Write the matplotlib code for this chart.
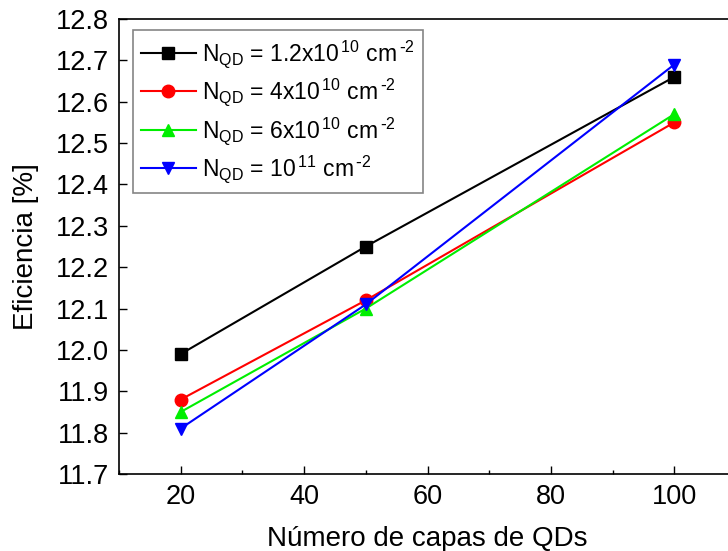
"""Eficiencia vs número de capas de QDs for several QD densities."""
import matplotlib

matplotlib.use("Agg")
import matplotlib.pyplot as plt
from matplotlib.ticker import FormatStrFormatter, MultipleLocator

plt.rcParams["font.family"] = ["Liberation Sans", "DejaVu Sans"]
plt.rcParams["mathtext.default"] = "regular"

capas = [20, 50, 100]
ef_12e10 = [11.99, 12.25, 12.66]
ef_4e10 = [11.88, 12.12, 12.55]
ef_6e10 = [11.85, 12.10, 12.57]
ef_1e11 = [11.81, 12.11, 12.69]

labels = [
    r"N$_{QD}$ = 1.2x10$^{\,10}$ cm$^{\,\text{-}2}$",
    r"N$_{QD}$ = 4x10$^{\,10}$ cm$^{\,\text{-}2}$",
    r"N$_{QD}$ = 6x10$^{\,10}$ cm$^{\,\text{-}2}$",
    r"N$_{QD}$ = 10$^{\,11}$ cm$^{\,\text{-}2}$",
]
series = [ef_12e10, ef_4e10, ef_6e10, ef_1e11]
colors = ["black", "#ff0000", "#00ee00", "#0000ff"]
markers = ["s", "o", "^", "v"]

fig = plt.figure(figsize=(7.28, 5.51), dpi=100)
# right edge of the axes runs past the figure, as in the cropped original
ax = fig.add_axes([119 / 728, 1 - 474 / 551, (736 - 119) / 728, (474 - 19) / 551])

for vals, lab, col, mk in zip(series, labels, colors, markers):
    ax.plot(capas, vals, color=col, marker=mk, markersize=9, linewidth=1.5, label=lab)

ax.set_xlim(10, 110)
ax.set_ylim(11.7, 12.8)
ax.xaxis.set_major_locator(MultipleLocator(20))
ax.xaxis.set_minor_locator(MultipleLocator(10))
ax.yaxis.set_major_locator(MultipleLocator(0.1))
ax.yaxis.set_major_formatter(FormatStrFormatter("%.1f"))
ax.tick_params(which="major", direction="in", length=6, width=1, labelsize=19.5,
               top=False, right=False, pad=7)
ax.tick_params(which="minor", direction="in", length=3, width=1, top=False, right=False)
for sp in ax.spines.values():
    sp.set_linewidth(1.2)

ax.set_xlabel("Número de capas de QDs", fontsize=20, labelpad=12)
ax.set_ylabel("Eficiencia [%]", fontsize=20, labelpad=12)

leg = ax.legend(loc="upper left", bbox_to_anchor=(0.022, 0.975), fontsize=16.5,
                frameon=True, fancybox=False, edgecolor="#666666",
                handlelength=2.4, handletextpad=0.3, labelspacing=0.3,
                borderpad=0.35, borderaxespad=0)
leg.get_frame().set_linewidth(1.2)

fig.savefig("out.png", dpi=100)
